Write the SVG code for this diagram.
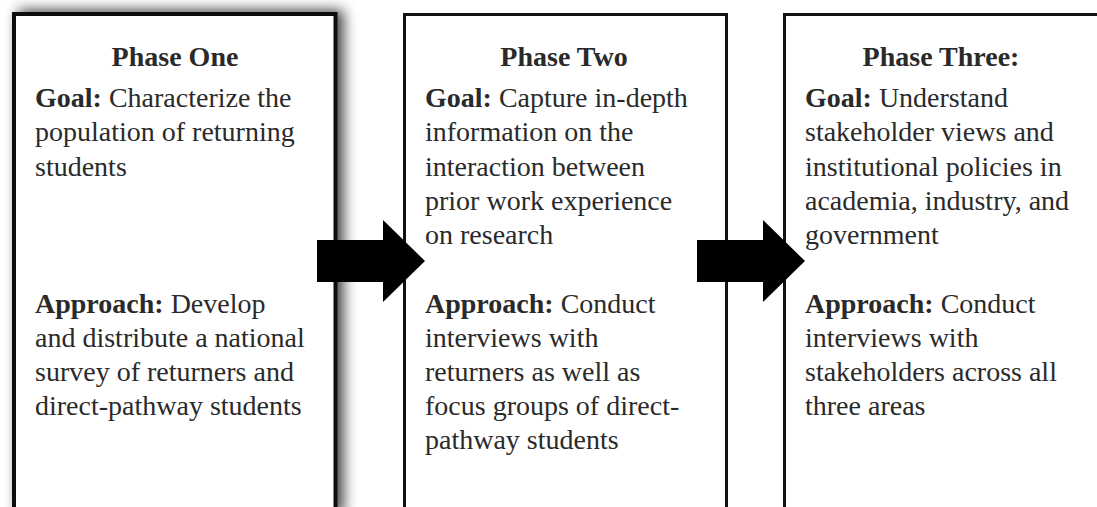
<svg xmlns="http://www.w3.org/2000/svg" width="1097" height="507" viewBox="0 0 1097 507">
<style>
  .box { fill: #ffffff; stroke: #111111; }
  .t { font-family: "Liberation Serif", "Times New Roman", serif; font-size: 28px; fill: #2a2a2a; }
  .title { font-weight: bold; text-anchor: middle; }
  .b { font-weight: bold; }
  .arrow { fill: #000000; }
</style>
<defs>
  <filter id="shadow" x="-20%" y="-20%" width="140%" height="140%">
    <feGaussianBlur in="SourceAlpha" stdDeviation="7"/>
    <feOffset dx="6" dy="-2" result="blur"/>
    <feComponentTransfer><feFuncA type="linear" slope="0.75"/></feComponentTransfer>
    <feMerge><feMergeNode/><feMergeNode in="SourceGraphic"/></feMerge>
  </filter>
</defs>
<rect x="0" y="0" width="1097" height="507" fill="#ffffff"/>

<g id="phase-one">
  <rect class="box" x="14" y="14" width="321.5" height="500" stroke-width="4" filter="url(#shadow)"/>
  <text class="t title" x="175" y="66">Phase One</text>
  <text class="t" x="35" y="107"><tspan class="b">Goal:</tspan> Characterize the</text>
  <text class="t" x="35" y="141">population of returning</text>
  <text class="t" x="35" y="176">students</text>
  <text class="t" x="35" y="313"><tspan class="b">Approach:</tspan> Develop</text>
  <text class="t" x="35" y="347">and distribute a national</text>
  <text class="t" x="35" y="381">survey of returners and</text>
  <text class="t" x="35" y="415">direct-pathway students</text>
</g>

<g id="phase-two">
  <rect class="box" x="404.5" y="14.5" width="322" height="500" stroke-width="3"/>
  <text class="t title" x="564" y="66">Phase Two</text>
  <text class="t" x="425" y="107"><tspan class="b">Goal:</tspan> Capture in-depth</text>
  <text class="t" x="425" y="141">information on the</text>
  <text class="t" x="425" y="176">interaction between</text>
  <text class="t" x="425" y="210">prior work experience</text>
  <text class="t" x="425" y="244">on research</text>
  <text class="t" x="425" y="313"><tspan class="b">Approach:</tspan> Conduct</text>
  <text class="t" x="425" y="347">interviews with</text>
  <text class="t" x="425" y="381">returners as well as</text>
  <text class="t" x="425" y="415">focus groups of direct-</text>
  <text class="t" x="425" y="449">pathway students</text>
</g>

<g id="phase-three">
  <rect class="box" x="784.5" y="14.5" width="330" height="500" stroke-width="3"/>
  <text class="t title" x="941" y="66">Phase Three:</text>
  <text class="t" x="805" y="107"><tspan class="b">Goal:</tspan> Understand</text>
  <text class="t" x="805" y="141">stakeholder views and</text>
  <text class="t" x="805" y="176">institutional policies in</text>
  <text class="t" x="805" y="210">academia, industry, and</text>
  <text class="t" x="805" y="244">government</text>
  <text class="t" x="805" y="313"><tspan class="b">Approach:</tspan> Conduct</text>
  <text class="t" x="805" y="347">interviews with</text>
  <text class="t" x="805" y="381">stakeholders across all</text>
  <text class="t" x="805" y="415">three areas</text>
</g>

<g id="connectors">
  <polygon class="arrow" points="317,240 383,240 383,220 425,261 383,302 383,282 317,282"/>
  <polygon class="arrow" points="697,240 763,240 763,220 805,261 763,302 763,282 697,282"/>
</g>
</svg>
